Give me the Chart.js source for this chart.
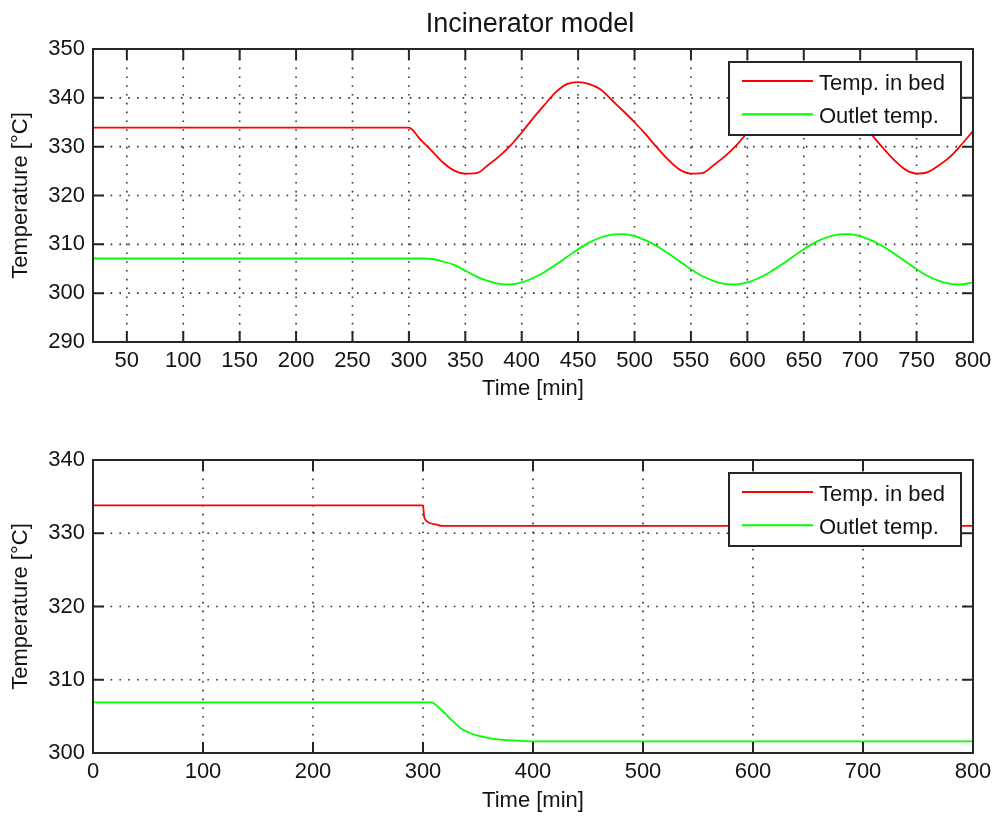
<!DOCTYPE html>
<html>
<head>
<meta charset="utf-8">
<script src="https://cdn.jsdelivr.net/npm/chart.js@4"></script>
<style>
html,body{margin:0;padding:0;background:#fff;}
body{width:992px;height:817px;position:relative;overflow:hidden;}
#c1{position:absolute;left:0;top:0;}
#c2{position:absolute;left:0;top:410px;}
</style>
</head>
<body>
<canvas id="c1" width="992" height="410"></canvas>
<canvas id="c2" width="992" height="407"></canvas>
<script>
// ---------- data ----------
const chartTitle = 'Incinerator model';
const seriesNames = ['Temp. in bed', 'Outlet temp.'];
const xLabel = 'Time [min]';
const yLabel = 'Temperature [°C]';

// top panel
const topTime = [20, 300, 310, 320, 330, 340, 350, 360, 370, 380, 390, 400, 410, 420, 430, 440, 450, 460, 470, 480, 490,
  500, 510, 520, 530, 540, 550, 560, 570, 580, 590, 600, 610, 620, 630, 640, 650, 660, 670, 680, 690,
  700, 710, 720, 730, 740, 750, 760, 770, 780, 790, 800];
const topBed = [333.9, 333.9, 331.5, 329.2, 326.8, 325.1, 324.5, 324.6, 326.2, 328.0, 330.2, 332.9, 335.8, 338.5, 341.1, 342.8, 343.2, 342.8, 341.7, 339.5, 337.3,
  335.0, 332.5, 329.8, 327.3, 325.3, 324.5, 324.6, 326.2, 328.0, 330.2, 332.9, 335.8, 338.5, 341.1, 342.8, 343.2, 342.8, 341.7, 339.5, 337.3,
  335.0, 332.5, 329.8, 327.3, 325.3, 324.5, 324.8, 326.2, 328.0, 330.5, 333.2];
const topOutlet = [307.1, 307.1, 307.1, 307.0, 306.5, 305.8, 304.6, 303.4, 302.5, 301.9, 301.8, 302.2, 303.1, 304.3, 305.8, 307.4, 309.0, 310.4, 311.4, 312.0, 312.1,
  311.7, 310.8, 309.6, 308.1, 306.5, 304.9, 303.5, 302.5, 301.9, 301.8, 302.2, 303.1, 304.3, 305.8, 307.4, 309.0, 310.4, 311.4, 312.0, 312.1,
  311.7, 310.8, 309.6, 308.1, 306.5, 304.9, 303.5, 302.5, 301.9, 301.8, 302.2];
const topXTicks = [50, 100, 150, 200, 250, 300, 350, 400, 450, 500, 550, 600, 650, 700, 750, 800];
const topYTicks = [290, 300, 310, 320, 330, 340, 350];

// bottom panel
const botBedTime = [0, 300, 301, 303, 306, 312, 317, 800];
const botBed = [333.8, 333.8, 332.3, 331.7, 331.4, 331.2, 331.0, 331.0];
const botOutletTime = [0, 308, 312, 318, 326, 335, 343, 352, 361, 372, 385, 400, 800];
const botOutlet = [306.9, 306.9, 306.5, 305.7, 304.5, 303.3, 302.7, 302.3, 302.0, 301.8, 301.7, 301.6, 301.6];
const botXTicks = [0, 100, 200, 300, 400, 500, 600, 700, 800];
const botYTicks = [300, 310, 320, 330, 340];

// ---------- styling ----------
const FONT = "'Liberation Sans', Arial, Helvetica, sans-serif";
const TEXT = '#141414';
const AXIS = '#262626';
const RED = '#ff0000';
const GREEN = '#00ff00';

function pts(xs, ys) { return xs.map((x, i) => ({x: x, y: ys[i]})); }

const matlabAxes = {
  id: 'matlabAxes',
  beforeDatasetsDraw(chart) {
    const {ctx, chartArea: a, scales: {x, y}} = chart;
    ctx.save();
    ctx.strokeStyle = '#303030';
    ctx.lineWidth = 1.6;
    ctx.setLineDash([1.6, 7.2]);
    x.ticks.forEach(t => {
      const px = x.getPixelForValue(t.value);
      if (px <= a.left + 1 || px >= a.right - 1) return;
      ctx.beginPath(); ctx.moveTo(px, a.bottom); ctx.lineTo(px, a.top); ctx.stroke();
    });
    y.ticks.forEach(t => {
      const py = y.getPixelForValue(t.value);
      if (py <= a.top + 1 || py >= a.bottom - 1) return;
      ctx.beginPath(); ctx.moveTo(a.left, py); ctx.lineTo(a.right, py); ctx.stroke();
    });
    ctx.restore();
  },
  afterDatasetsDraw(chart, args, opts) {
    const {ctx, chartArea: a, scales: {x, y}} = chart;
    ctx.save();
    ctx.setLineDash([]);
    ctx.strokeStyle = AXIS;
    ctx.lineWidth = 2;
    const tl = 11;
    x.ticks.forEach(t => {
      const px = x.getPixelForValue(t.value);
      ctx.beginPath();
      ctx.moveTo(px, a.bottom); ctx.lineTo(px, a.bottom - tl);
      ctx.moveTo(px, a.top); ctx.lineTo(px, a.top + tl);
      ctx.stroke();
    });
    y.ticks.forEach(t => {
      const py = y.getPixelForValue(t.value);
      ctx.beginPath();
      ctx.moveTo(a.left, py); ctx.lineTo(a.left + tl, py);
      ctx.moveTo(a.right, py); ctx.lineTo(a.right - tl, py);
      ctx.stroke();
    });
    ctx.strokeRect(a.left, a.top, a.right - a.left, a.bottom - a.top);

    // legend box
    const L = opts.legend;
    const lx = a.right - L.right - L.w;
    const ly = a.top + L.top;
    ctx.fillStyle = '#ffffff';
    ctx.fillRect(lx, ly, L.w, L.h);
    ctx.strokeStyle = AXIS;
    ctx.lineWidth = 2;
    ctx.strokeRect(lx, ly, L.w, L.h);
    ctx.font = '22px ' + FONT;
    ctx.textBaseline = 'alphabetic';
    ctx.textAlign = 'left';
    chart.data.datasets.forEach((ds, i) => {
      const ry = ly + 19 + i * 33.3;
      ctx.strokeStyle = ds.borderColor;
      ctx.lineWidth = 2;
      ctx.beginPath(); ctx.moveTo(lx + 13, ry); ctx.lineTo(lx + 84, ry); ctx.stroke();
      ctx.fillStyle = TEXT;
      ctx.fillText(ds.label, lx + 90, ry + 9);
    });

    // figure title
    if (opts.title) {
      ctx.fillStyle = TEXT;
      ctx.font = '27px ' + FONT;
      ctx.textAlign = 'center';
      ctx.textBaseline = 'alphabetic';
      ctx.fillText(opts.title, (a.left + a.right) / 2 - 3, 31.7);
    }
    ctx.restore();
  }
};

function makeChart(id, datasets, cfg) {
  return new Chart(document.getElementById(id), {
    type: 'line',
    data: {datasets: datasets},
    plugins: [matlabAxes],
    options: {
      responsive: false,
      animation: false,
      events: [],
      layout: {padding: {left: 0, right: 19, top: cfg.padTop, bottom: cfg.padBottom}},
      elements: {point: {radius: 0}, line: {cubicInterpolationMode: 'monotone', borderWidth: 1.8}},
      plugins: {
        legend: {display: false},
        tooltip: {enabled: false},
        title: {display: false},
        matlabAxes: {legend: {w: 232, h: 73, right: 12, top: 13}, title: cfg.title}
      },
      scales: {
        x: {
          type: 'linear', min: cfg.xMin, max: cfg.xMax,
          grid: {display: false, drawTicks: false},
          border: {display: false},
          ticks: {font: {family: FONT, size: 22}, color: TEXT, padding: 5.5, maxRotation: 0, autoSkip: false},
          afterBuildTicks: s => { s.ticks = cfg.xTicks.map(v => ({value: v})); },
          afterFit: s => { s.height = cfg.xAxisH; s.paddingLeft = 0; s.paddingRight = 0; },
          title: {display: true, text: xLabel, color: TEXT, font: {family: FONT, size: 22}, padding: {top: 0, bottom: 0}}
        },
        y: {
          type: 'linear', min: cfg.yMin, max: cfg.yMax,
          grid: {display: false, drawTicks: false},
          border: {display: false},
          ticks: {font: {family: FONT, size: 22}, color: TEXT, padding: 8, autoSkip: false},
          afterBuildTicks: s => { s.ticks = cfg.yTicks.map(v => ({value: v})); },
          afterFit: s => { s.width = 93; s.paddingTop = 0; s.paddingBottom = 0; },
          title: {display: true, text: yLabel, color: TEXT, font: {family: FONT, size: 22}, padding: {top: 7.8, bottom: 0}}
        }
      }
    }
  });
}

makeChart('c1', [
  {label: seriesNames[0], data: pts(topTime, topBed), borderColor: RED, backgroundColor: RED},
  {label: seriesNames[1], data: pts(topTime, topOutlet), borderColor: GREEN, backgroundColor: GREEN}
], {padTop: 49, padBottom: 7.4, xAxisH: 60.6, xMin: 20, xMax: 800, yMin: 290, yMax: 350,
    xTicks: topXTicks, yTicks: topYTicks, title: chartTitle});

makeChart('c2', [
  {label: seriesNames[0], data: pts(botBedTime, botBed), borderColor: RED, backgroundColor: RED},
  {label: seriesNames[1], data: pts(botOutletTime, botOutlet), borderColor: GREEN, backgroundColor: GREEN}
], {padTop: 50, padBottom: 2.7, xAxisH: 61.3, xMin: 0, xMax: 800, yMin: 300, yMax: 340,
    xTicks: botXTicks, yTicks: botYTicks, title: null});
</script>
</body>
</html>
